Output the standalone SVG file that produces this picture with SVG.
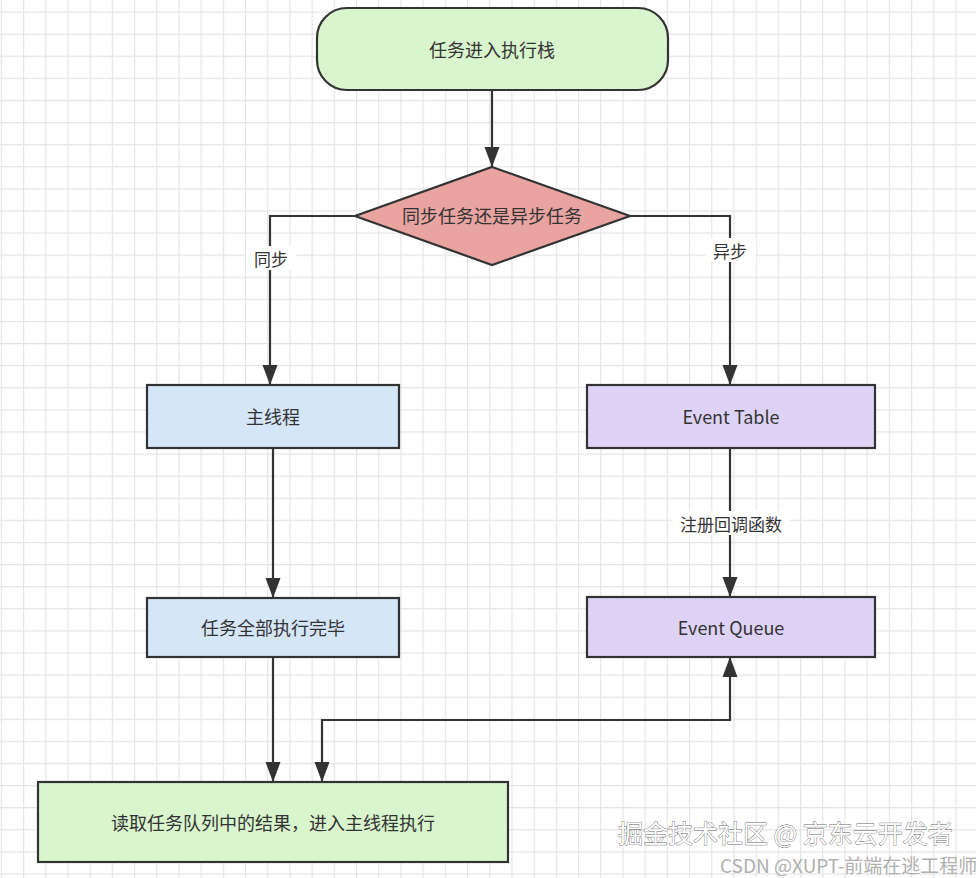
<svg xmlns="http://www.w3.org/2000/svg" width="976" height="878" viewBox="0 0 976 878">
<defs>
<pattern id="grid" x="23" y="11.5" width="22.2" height="22.1" patternUnits="userSpaceOnUse">
<path d="M0 0.5 H22.2 M0.5 0 V22.1" fill="none" stroke="#e4e4e4" stroke-width="1.3"/>
</pattern>
<marker id="arr" viewBox="0 0 20 16" refX="19" refY="8" markerWidth="20" markerHeight="16" markerUnits="userSpaceOnUse" orient="auto">
<path d="M0 0.5 L20 8 L0 15.5 Z" fill="#333"/>
</marker>
<marker id="arrs" viewBox="0 0 20 16" refX="1" refY="8" markerWidth="20" markerHeight="16" markerUnits="userSpaceOnUse" orient="auto">
<path d="M20 0.5 L0 8 L20 15.5 Z" fill="#333"/>
</marker>
</defs>
<style>
.node{stroke:#333;stroke-width:2.2}
.t{font-family:"Noto Sans CJK SC","Noto Sans",sans-serif;font-size:18px;fill:#333;text-anchor:middle;dominant-baseline:central}
.lbl{font-family:"Noto Sans CJK SC","Noto Sans",sans-serif;font-size:17px;fill:#333;text-anchor:middle;dominant-baseline:central}
.c{fill:none;stroke:#333;stroke-width:2.2}
.wm{font-family:"Noto Sans CJK SC",sans-serif}
</style>
<rect width="976" height="878" fill="#ffffff"/>
<rect width="976" height="878" fill="url(#grid)"/>

<g id="connectors">
<path class="c" d="M492 91 V166" marker-end="url(#arr)"/>
<path class="c" d="M355 216 H270 V384" marker-end="url(#arr)"/>
<path class="c" d="M630 216 H730 V384" marker-end="url(#arr)"/>
<path class="c" d="M273 448 V597" marker-end="url(#arr)"/>
<path class="c" d="M730 448 V596" marker-end="url(#arr)"/>
<path class="c" d="M273 657 V781" marker-end="url(#arr)"/>
<path class="c" d="M730 658 V720 H322 V781" marker-start="url(#arrs)" marker-end="url(#arr)"/>
<rect x="246" y="246" width="50" height="24" fill="#ffffff"/>
<text class="lbl" x="271" y="258">同步</text>
<rect x="706" y="238" width="50" height="24" fill="#ffffff"/>
<text class="lbl" x="730" y="250">异步</text>
<rect x="672" y="511" width="118" height="24" fill="#ffffff"/>
<text class="lbl" x="731" y="523">注册回调函数</text>
</g>

<g id="start">
<rect class="node" x="317" y="8" width="351" height="82" rx="30" ry="30" fill="#d8f5cd"/>
<text class="t" x="492" y="49">任务进入执行栈</text>
</g>

<g id="decision">
<polygon class="node" points="492,167 630,216 492,265 355,216" fill="#e9a3a1"/>
<text class="t" x="492" y="215">同步任务还是异步任务</text>
</g>

<g id="main-thread">
<rect class="node" x="147" y="385" width="252" height="63" fill="#d5e6f8"/>
<text class="t" x="273" y="416">主线程</text>
</g>

<g id="event-table">
<rect class="node" x="587" y="385" width="288" height="63" fill="#ded3f6"/>
<text class="t" x="731" y="416">Event Table</text>
</g>

<g id="tasks-done">
<rect class="node" x="147" y="598" width="252" height="59" fill="#d5e6f8"/>
<text class="t" x="273" y="627">任务全部执行完毕</text>
</g>

<g id="event-queue">
<rect class="node" x="587" y="597" width="288" height="60" fill="#ded3f6"/>
<text class="t" x="731" y="627">Event Queue</text>
</g>

<g id="read-queue">
<rect class="node" x="38" y="782" width="470" height="80" fill="#d8f5cd"/>
<text class="t" x="273" y="822">读取任务队列中的结果，进入主线程执行</text>
</g>

<g id="watermark">
<text class="wm" x="618" y="843" font-size="25" fill="#ffffff" stroke="#666" stroke-width="0.8" paint-order="stroke">掘金技术社区 @ 京东云开发者</text>
<text class="wm" x="720" y="873" font-size="19" fill="#b0b0b0">CSDN @XUPT-前端在逃工程师</text>
</g>
</svg>
